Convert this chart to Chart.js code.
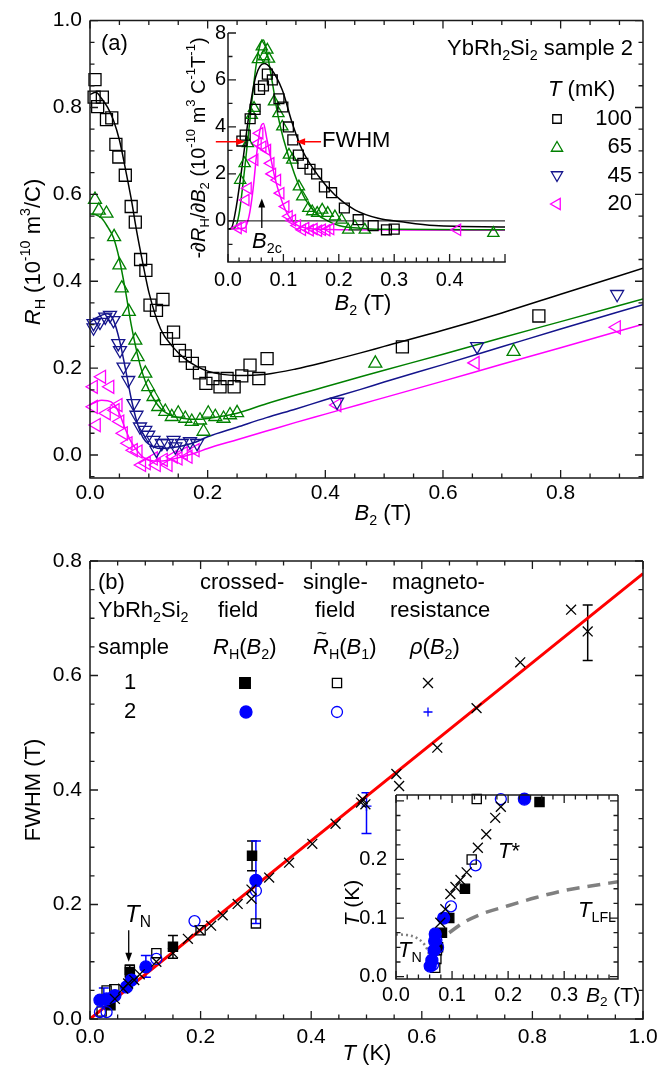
<!DOCTYPE html>
<html>
<head>
<meta charset="utf-8">
<title>YbRh2Si2 Hall crossover</title>
<script src="https://cdn.jsdelivr.net/npm/chart.js@4.4.1/dist/chart.umd.min.js"></script>
<style>
  html, body { margin: 0; padding: 0; background: #fff; }
  #page { position: relative; width: 668px; height: 1069px; overflow: hidden; }
  canvas { position: absolute; }
</style>
</head>
<body>
<div id="page">
  <canvas id="mainA"></canvas>
  <canvas id="insetA"></canvas>
  <canvas id="mainB"></canvas>
  <canvas id="insetB"></canvas>
</div>
<script>
"use strict";

const FONT = '"Liberation Sans", Arial, Helvetica, sans-serif';
const GREEN = "#008000";
const NAVY = "#14148c";
const MAGENTA = "#ff00ff";
const BLUE = "#0000ff";
const RED = "#ff0000";
const GRAY = "#808080";

// ---- (a) main: R_H (1e-10 m^3/C) vs B2 (T) ----
const A_B_100 = [0.0085, 0.007, 0.013, 0.021, 0.028, 0.037, 0.044, 0.049, 0.06, 0.07, 0.077, 0.086, 0.095, 0.102, 0.113, 0.124, 0.13, 0.142, 0.152, 0.162, 0.174, 0.186, 0.197, 0.209, 0.221, 0.233, 0.245, 0.258, 0.272, 0.287, 0.301, 0.531, 0.763];
const A_R_100 = [0.864, 0.824, 0.802, 0.824, 0.772, 0.776, 0.715, 0.686, 0.644, 0.572, 0.536, 0.45, 0.425, 0.345, 0.333, 0.358, 0.268, 0.283, 0.241, 0.228, 0.211, 0.189, 0.165, 0.176, 0.157, 0.176, 0.157, 0.182, 0.207, 0.176, 0.222, 0.249, 0.32];
const A_B_65 = [0.0085, 0.015, 0.028, 0.041, 0.05, 0.054, 0.066, 0.077, 0.081, 0.094, 0.099, 0.108, 0.116, 0.128, 0.139, 0.15, 0.162, 0.173, 0.187, 0.193, 0.201, 0.213, 0.227, 0.238, 0.25, 0.485, 0.72];
const A_R_65 = [0.588, 0.563, 0.556, 0.502, 0.437, 0.384, 0.33, 0.264, 0.226, 0.188, 0.157, 0.134, 0.111, 0.1, 0.088, 0.096, 0.084, 0.077, 0.08, 0.054, 0.096, 0.088, 0.084, 0.092, 0.097, 0.211, 0.238];
const A_B_45 = [0.006, 0.006, 0.017, 0.026, 0.034, 0.04, 0.048, 0.051, 0.057, 0.065, 0.074, 0.079, 0.085, 0.094, 0.099, 0.108, 0.113, 0.122, 0.131, 0.142, 0.145, 0.156, 0.17, 0.182, 0.42, 0.658, 0.896];
const A_R_45 = [0.303, 0.293, 0.306, 0.318, 0.322, 0.31, 0.257, 0.241, 0.203, 0.172, 0.119, 0.092, 0.065, 0.057, 0.046, 0.034, 0.011, 0.027, 0.027, 0.034, 0.019, 0.027, 0.031, 0.027, 0.122, 0.25, 0.37];
const A_B_20 = [0.006, 0.006, 0.011, 0.02, 0.028, 0.034, 0.043, 0.048, 0.051, 0.057, 0.065, 0.074, 0.082, 0.088, 0.096, 0.108, 0.113, 0.125, 0.133, 0.142, 0.15, 0.159, 0.167, 0.179, 0.42, 0.655, 0.895];
const A_R_20 = [0.157, 0.111, 0.069, 0.18, 0.096, 0.157, 0.103, 0.115, 0.077, 0.05, 0.027, 0.011, 0.008, -0.023, -0.019, -0.008, -0.023, -0.011, -0.023, -0.004, -0.008, 0.004, -0.004, 0.011, 0.115, 0.212, 0.294];
// fitted curves
const A_FIT_B = [0, 0.01, 0.02, 0.03, 0.04, 0.05, 0.06, 0.07, 0.08, 0.09, 0.1, 0.12, 0.14, 0.16, 0.18, 0.2, 0.25, 0.3, 0.35, 0.4, 0.46, 0.5, 0.6, 0.7, 0.8, 0.94];
const A_FIT_100 = [0.83, 0.835, 0.82, 0.8, 0.77, 0.725, 0.66, 0.59, 0.51, 0.44, 0.375, 0.29, 0.25, 0.223, 0.205, 0.193, 0.183, 0.186, 0.198, 0.214, 0.235, 0.25, 0.287, 0.327, 0.37, 0.43];
const A_FIT_65 = [0.555, 0.553, 0.545, 0.525, 0.5, 0.45, 0.38, 0.3, 0.235, 0.185, 0.15, 0.107, 0.09, 0.084, 0.082, 0.084, 0.096, 0.118, 0.138, 0.157, 0.18, 0.195, 0.232, 0.27, 0.307, 0.359];
const A_FIT_45 = [0.305, 0.315, 0.322, 0.325, 0.31, 0.265, 0.2, 0.13, 0.075, 0.04, 0.025, 0.015, 0.017, 0.022, 0.03, 0.042, 0.064, 0.086, 0.106, 0.127, 0.151, 0.168, 0.208, 0.249, 0.29, 0.346];
const A_FIT_20 = [0.115, 0.122, 0.126, 0.125, 0.118, 0.095, 0.06, 0.03, 0.01, -0.005, -0.012, -0.014, -0.01, -0.003, 0.005, 0.015, 0.035, 0.055, 0.075, 0.094, 0.117, 0.132, 0.17, 0.209, 0.247, 0.301];

// ---- (a) inset: -dR_H/dB2 vs B2 ----
const I_B_100 = [0.025, 0.031, 0.04, 0.049, 0.057, 0.064, 0.071, 0.08, 0.092, 0.099, 0.109, 0.117, 0.127, 0.135, 0.148, 0.16, 0.174, 0.187, 0.21, 0.235, 0.262, 0.286, 0.3];
const I_V_100 = [3.4, 3.65, 4.35, 4.75, 5.6, 5.75, 6.25, 6.0, 5.2, 4.85, 4.0, 3.45, 2.8, 2.45, 2.2, 2.0, 1.45, 1.2, 0.55, 0.05, -0.2, -0.38, -0.35];
const I_B_65 = [0.022, 0.03, 0.036, 0.043, 0.047, 0.054, 0.061, 0.065, 0.071, 0.074, 0.083, 0.091, 0.098, 0.11, 0.116, 0.128, 0.134, 0.145, 0.152, 0.161, 0.17, 0.18, 0.193, 0.205, 0.217, 0.229, 0.247, 0.479];
const I_V_65 = [1.74, 2.45, 3.3, 4.5, 4.8, 6.88, 7.42, 7.0, 7.28, 6.9, 5.08, 4.58, 4.01, 2.81, 2.6, 1.46, 1.03, 0.54, 0.4, 0.33, 0.47, 0.33, 0.18, 0.04, -0.38, -0.24, -0.38, -0.52];
const I_B_20 = [0.018, 0.027, 0.032, 0.036, 0.048, 0.054, 0.057, 0.0625, 0.071, 0.077, 0.08, 0.089, 0.095, 0.104, 0.11, 0.116, 0.125, 0.134, 0.14, 0.148, 0.155, 0.163, 0.17, 0.178, 0.185, 0.414];
const I_V_20 = [-0.3, -0.24, 0.89, 1.39, 2.6, 3.3, 3.73, 3.16, 3.02, 2.45, 2.0, 1.74, 1.18, 0.61, 0.2, 0.03, -0.2, -0.38, -0.3, -0.4, -0.35, -0.42, -0.38, -0.4, -0.35, -0.38];
const I_FIT_B100 = [0, 0.006, 0.015, 0.027, 0.039, 0.05, 0.065, 0.077, 0.098, 0.116, 0.134, 0.164, 0.193, 0.229, 0.271, 0.313, 0.373, 0.5];
const I_FIT_100 = [-0.35, -0.31, 0.61, 2.6, 4.72, 6.14, 6.7, 6.5, 5.57, 4.16, 3.02, 1.89, 1.1, 0.47, 0.11, -0.04, -0.2, -0.26];
const I_FIT_B65 = [0, 0.012, 0.02, 0.03, 0.04, 0.05, 0.058, 0.064, 0.07, 0.08, 0.09, 0.1, 0.12, 0.14, 0.16, 0.18, 0.2, 0.25, 0.3, 0.5];
const I_FIT_65 = [-0.35, -0.3, 0.3, 2.2, 4.4, 6.5, 7.5, 7.7, 7.2, 5.9, 4.5, 3.5, 2.0, 0.9, 0.3, 0.0, -0.2, -0.33, -0.36, -0.38];
const I_FIT_B20 = [0, 0.03, 0.038, 0.045, 0.052, 0.058, 0.064, 0.07, 0.077, 0.085, 0.095, 0.105, 0.12, 0.14, 0.17, 0.2, 0.5];
const I_FIT_20 = [-0.35, -0.3, 0.2, 1.3, 2.9, 3.9, 4.15, 3.5, 2.7, 1.8, 1.0, 0.4, -0.1, -0.3, -0.36, -0.38, -0.4];
const I_ZERO_B = [0, 0.5];
const I_ZERO_V = [0, 0];

// ---- (b) main: FWHM (T) vs T (K) ----
const B_T_S1X = [0.037, 0.072, 0.15, 0.293];
const B_W_S1X = [0.024, 0.082, 0.126, 0.285];
const B_T_S1S = [0.021, 0.03, 0.044, 0.072, 0.12, 0.2, 0.3];
const B_W_S1S = [0.013, 0.05, 0.052, 0.086, 0.115, 0.155, 0.167];
const B_T_S2X = [0.018, 0.03, 0.045, 0.066, 0.075, 0.101, 0.3];
const B_W_S2X = [0.033, 0.035, 0.041, 0.056, 0.068, 0.091, 0.242];
const B_T_S2S = [0.018, 0.024, 0.03, 0.04, 0.12, 0.189, 0.3];
const B_W_S2S = [0.012, 0.032, 0.012, 0.038, 0.105, 0.171, 0.224];
const B_T_MR1 = [0.045, 0.06, 0.069, 0.08, 0.09, 0.12, 0.15, 0.177, 0.198, 0.219, 0.24, 0.267, 0.292, 0.292, 0.324, 0.36, 0.402, 0.444, 0.49, 0.493, 0.498, 0.554, 0.559, 0.628, 0.699, 0.778, 0.87, 0.9];
const B_W_MR1 = [0.035, 0.053, 0.062, 0.068, 0.078, 0.1, 0.115, 0.14, 0.155, 0.163, 0.181, 0.201, 0.21, 0.226, 0.247, 0.273, 0.306, 0.341, 0.378, 0.384, 0.375, 0.428, 0.407, 0.474, 0.543, 0.623, 0.715, 0.677];
const B_T_MR2 = [0.5];
const B_W_MR2 = [0.372];
const B_LINE_T = [0, 1];
const B_LINE_W = [0, 0.778];
const B_ERR_T_BLACK = [0.072, 0.15, 0.293, 0.9];
const B_ERR_LO_BLACK = [0.072, 0.106, 0.259, 0.626];
const B_ERR_HI_BLACK = [0.094, 0.146, 0.311, 0.723];
const B_ERR_T_BLUE = [0.025, 0.101, 0.3, 0.5];
const B_ERR_LO_BLUE = [0.029, 0.073, 0.167, 0.324];
const B_ERR_HI_BLUE = [0.054, 0.111, 0.311, 0.395];

// ---- (b) inset: T (K) vs B2 (T) ----
const P_B_S1X = [0.256, 0.123, 0.095, 0.082, 0.075];
const P_T_S1X = [0.298, 0.15, 0.1, 0.075, 0.05];
const P_B_S1S = [0.144, 0.135, 0.073, 0.072, 0.07];
const P_T_S1S = [0.303, 0.2, 0.045, 0.03, 0.015];
const P_B_S2X = [0.229, 0.085, 0.07, 0.069, 0.068, 0.064, 0.061];
const P_T_S2X = [0.303, 0.1, 0.073, 0.061, 0.045, 0.028, 0.018];
const P_B_S2S = [0.187, 0.142, 0.098, 0.075, 0.072, 0.066];
const P_T_S2S = [0.303, 0.19, 0.12, 0.05, 0.062, 0.02];
const P_B_MR1 = [0.187, 0.177, 0.161, 0.146, 0.126, 0.115, 0.106, 0.097, 0.088, 0.079];
const P_T_MR1 = [0.29, 0.271, 0.243, 0.22, 0.178, 0.165, 0.153, 0.141, 0.115, 0.092];
const P_LFL_B = [0.095, 0.12, 0.15, 0.2, 0.25, 0.3, 0.35, 0.396];
const P_LFL_T = [0.075, 0.092, 0.106, 0.121, 0.135, 0.147, 0.155, 0.162];
const P_TN_B = [0, 0.02, 0.035, 0.048, 0.056, 0.061];
const P_TN_T = [0.072, 0.071, 0.067, 0.058, 0.046, 0.032];

function zip(xs, ys) {
  return xs.map((x, i) => ({x: x, y: ys[i]}));
}

function pointSet(xs, ys, style, color, r, filled, rot) {
  return {
    data: zip(xs, ys),
    showLine: false,
    clip: false,
    pointStyle: style,
    pointRadius: r,
    pointRotation: rot || 0,
    pointBorderColor: color,
    pointBorderWidth: 1.3,
    pointBackgroundColor: filled ? color : "rgba(0,0,0,0)"
  };
}

function lineSet(xs, ys, color, width, dash) {
  return {
    data: zip(xs, ys),
    showLine: true,
    pointRadius: 0,
    order: 5,
    borderColor: color,
    borderWidth: width,
    borderDash: dash || [],
    cubicInterpolationMode: "monotone",
    fill: false
  };
}

function axis(min, max, step, size, pad, label) {
  return {
    type: "linear",
    min: min,
    max: max,
    grid: {display: false, drawTicks: false},
    border: {display: false},
    ticks: {
      stepSize: step, includeBounds: false, autoSkip: false, maxRotation: 0,
      padding: pad, color: "#000", font: {family: FONT, size: size},
      callback: label
    }
  };
}

const one = (v) => v.toFixed(1);

// rich text: parts are [text, flags]; i italic, b subscript, p superscript, w tilde
function rich(ctx, parts, x, y, size, align, rot) {
  ctx.save();
  ctx.translate(x, y);
  if (rot) {
    ctx.rotate(rot);
  }
  const segs = parts.map((p) => {
    const f = p[1] || "";
    const small = f.includes("b") || f.includes("p");
    const s = small ? size * 0.65 : size;
    const font = (f.includes("i") ? "italic " : "") + s + "px " + FONT;
    ctx.font = font;
    const dy = f.includes("b") ? size * 0.3 : (f.includes("p") ? -size * 0.36 : 0);
    return {t: p[0], font: font, w: ctx.measureText(p[0]).width, dy: dy, tilde: f.includes("w")};
  });
  const total = segs.reduce((s, g) => s + g.w, 0);
  let cx = align === "center" ? -total / 2 : (align === "right" ? -total : 0);
  ctx.textBaseline = "middle";
  ctx.textAlign = "left";
  ctx.fillStyle = "#000";
  for (const g of segs) {
    ctx.font = g.font;
    ctx.fillText(g.t, cx, g.dy);
    if (g.tilde) {
      ctx.font = (size * 0.8) + "px " + FONT;
      ctx.textAlign = "center";
      ctx.fillText("~", cx + g.w / 2 + 1, -size * 0.62);
      ctx.textAlign = "left";
    }
    cx += g.w;
  }
  ctx.restore();
}

function mark(ctx, style, x, y, r, color, filled, rot) {
  ctx.save();
  ctx.translate(x, y);
  if (rot) {
    ctx.rotate(rot * Math.PI / 180);
  }
  ctx.strokeStyle = color;
  ctx.fillStyle = color;
  ctx.lineWidth = 1.3;
  ctx.beginPath();
  const s = r * Math.SQRT1_2;
  if (style === "rect") {
    ctx.rect(-s, -s, 2 * s, 2 * s);
  } else if (style === "circle") {
    ctx.arc(0, 0, r, 0, 2 * Math.PI);
  } else if (style === "triangle") {
    ctx.moveTo(0, -r);
    ctx.lineTo(r * 0.866, r * 0.5);
    ctx.lineTo(-r * 0.866, r * 0.5);
    ctx.closePath();
  } else if (style === "crossRot") {
    ctx.moveTo(-s, -s); ctx.lineTo(s, s);
    ctx.moveTo(s, -s); ctx.lineTo(-s, s);
  } else if (style === "cross") {
    ctx.moveTo(-r, 0); ctx.lineTo(r, 0);
    ctx.moveTo(0, -r); ctx.lineTo(0, r);
  }
  if (filled) {
    ctx.fill();
  }
  ctx.stroke();
  ctx.restore();
}

function arrow(ctx, x1, y1, x2, y2, color, width, head) {
  const ang = Math.atan2(y2 - y1, x2 - x1);
  ctx.save();
  ctx.strokeStyle = color;
  ctx.fillStyle = color;
  ctx.lineWidth = width;
  ctx.beginPath();
  ctx.moveTo(x1, y1);
  ctx.lineTo(x2 - Math.cos(ang) * head * 0.8, y2 - Math.sin(ang) * head * 0.8);
  ctx.stroke();
  ctx.beginPath();
  ctx.moveTo(x2, y2);
  ctx.lineTo(x2 - head * Math.cos(ang) + head * 0.38 * Math.sin(ang), y2 - head * Math.sin(ang) - head * 0.38 * Math.cos(ang));
  ctx.lineTo(x2 - head * Math.cos(ang) - head * 0.38 * Math.sin(ang), y2 - head * Math.sin(ang) + head * 0.38 * Math.cos(ang));
  ctx.closePath();
  ctx.fill();
  ctx.restore();
}

function drawTicks(ctx, scale, a, major, minor, horiz, sides) {
  const n0 = Math.ceil(scale.min / minor - 1e-6);
  const n1 = Math.floor(scale.max / minor + 1e-6);
  for (let k = n0; k <= n1; k++) {
    const v = k * minor;
    const isMajor = Math.abs(v / major - Math.round(v / major)) < 1e-6;
    const len = isMajor ? 8 : 4.5;
    const p = scale.getPixelForValue(v);
    if (horiz) {
      if (sides.includes("b")) { ctx.moveTo(p, a.bottom); ctx.lineTo(p, a.bottom - len); }
      if (sides.includes("t")) { ctx.moveTo(p, a.top); ctx.lineTo(p, a.top + len); }
    } else {
      if (sides.includes("l")) { ctx.moveTo(a.left, p); ctx.lineTo(a.left + len, p); }
      if (sides.includes("r")) { ctx.moveTo(a.right, p); ctx.lineTo(a.right - len, p); }
    }
  }
}

function framePlugin(box, spec) {
  function pageFns(chart) {
    return {
      X: (v) => chart.scales.x.getPixelForValue(v) + box[0],
      Y: (v) => chart.scales.y.getPixelForValue(v) + box[1]
    };
  }
  return {
    id: "frame",
    beforeDraw(chart) {
      if (spec.white) {
        const a = chart.chartArea;
        chart.ctx.save();
        chart.ctx.fillStyle = "#fff";
        chart.ctx.fillRect(a.left, a.top, a.right - a.left, a.bottom - a.top);
        chart.ctx.restore();
      }
    },
    beforeDatasetsDraw(chart) {
      if (spec.under) {
        const ctx = chart.ctx;
        ctx.save();
        ctx.translate(-box[0], -box[1]);
        spec.under(ctx, pageFns(chart));
        ctx.restore();
      }
    },
    afterDraw(chart) {
      const ctx = chart.ctx;
      const a = chart.chartArea;
      const sides = spec.sides;
      ctx.save();
      ctx.strokeStyle = "#1a1a1a";
      ctx.lineWidth = 1.5;
      ctx.beginPath();
      if (sides.includes("l")) { ctx.moveTo(a.left, a.top); ctx.lineTo(a.left, a.bottom); }
      if (sides.includes("r")) { ctx.moveTo(a.right, a.top); ctx.lineTo(a.right, a.bottom); }
      if (sides.includes("t")) { ctx.moveTo(a.left, a.top); ctx.lineTo(a.right, a.top); }
      if (sides.includes("b")) { ctx.moveTo(a.left - 0.75, a.bottom); ctx.lineTo(a.right + 0.75, a.bottom); }
      ctx.stroke();
      ctx.lineWidth = 1.3;
      ctx.beginPath();
      drawTicks(ctx, chart.scales.x, a, spec.xt[0], spec.xt[1], true, sides);
      drawTicks(ctx, chart.scales.y, a, spec.yt[0], spec.yt[1], false, sides);
      ctx.stroke();
      ctx.translate(-box[0], -box[1]);
      if (spec.over) {
        spec.over(ctx, pageFns(chart));
      }
      ctx.restore();
    }
  };
}

function build(id, box, area, yW, xH, datasets, xAx, yAx, spec) {
  const cv = document.getElementById(id);
  cv.width = box[2];
  cv.height = box[3];
  cv.style.left = box[0] + "px";
  cv.style.top = box[1] + "px";
  cv.style.width = box[2] + "px";
  cv.style.height = box[3] + "px";
  xAx.afterFit = (s) => { s.height = xH; };
  yAx.afterFit = (s) => { s.width = yW; };
  return new Chart(cv.getContext("2d"), {
    type: "scatter",
    data: {datasets: datasets},
    options: {
      responsive: false,
      animation: false,
      events: [],
      layout: {padding: {
        left: area[0] - box[0] - yW,
        top: area[1] - box[1],
        right: box[0] + box[2] - area[2],
        bottom: box[1] + box[3] - area[3] - xH
      }},
      plugins: {legend: {display: false}, tooltip: {enabled: false}},
      scales: {x: xAx, y: yAx}
    },
    plugins: [framePlugin(box, spec)]
  });
}

function errorBars(ctx, fn, ts, lo, hi, color) {
  ctx.save();
  ctx.strokeStyle = color;
  ctx.lineWidth = 1.5;
  ctx.beginPath();
  ts.forEach((t, i) => {
    const x = fn.X(t);
    const y1 = fn.Y(lo[i]);
    const y2 = fn.Y(hi[i]);
    ctx.moveTo(x, y1); ctx.lineTo(x, y2);
    ctx.moveTo(x - 5, y1); ctx.lineTo(x + 5, y1);
    ctx.moveTo(x - 5, y2); ctx.lineTo(x + 5, y2);
  });
  ctx.stroke();
  ctx.restore();
}

window.addEventListener("load", function() {
  // ---------- panel (a) ----------
  build("mainA", [0, 0, 668, 530], [90, 17, 643, 478], 60, 40, [
    pointSet(A_B_100, A_R_100, "rect", "#000", 8.5, false),
    pointSet(A_B_65, A_R_65, "triangle", GREEN, 7.5, false),
    pointSet(A_B_45, A_R_45, "triangle", NAVY, 7.5, false, 180),
    pointSet(A_B_20, A_R_20, "triangle", MAGENTA, 7.5, false, 270),
    lineSet(A_FIT_B, A_FIT_100, "#000", 1.5),
    lineSet(A_FIT_B, A_FIT_65, GREEN, 1.5),
    lineSet(A_FIT_B, A_FIT_45, NAVY, 1.5),
    lineSet(A_FIT_B, A_FIT_20, MAGENTA, 1.5)
  ], axis(0, 0.94, 0.2, 21, 3, one), axis(-0.053, 1.0, 0.2, 21, 8, one), {
    sides: "lrtb", xt: [0.2, 0.05], yt: [0.2, 0.05],
    over(ctx) {
      rich(ctx, [["(a)"]], 101, 44, 22, "left");
      rich(ctx, [["YbRh"], ["2", "b"], ["Si"], ["2", "b"], [" sample 2"]], 633, 49, 22, "right");
      rich(ctx, [["T", "i"], [" (mK)"]], 548, 90, 22, "left");
      const rowsY = [119, 147, 176, 204];
      const names = ["100", "65", "45", "20"];
      mark(ctx, "rect", 557, rowsY[0], 6, "#000", false);
      mark(ctx, "triangle", 557, rowsY[1] + 1, 6.5, GREEN, false);
      mark(ctx, "triangle", 557, rowsY[2] - 1, 6.5, NAVY, false, 180);
      mark(ctx, "triangle", 557, rowsY[3], 6.5, MAGENTA, false, 270);
      names.forEach((n, i) => rich(ctx, [[n]], 632, rowsY[i], 22, "right"));
      rich(ctx, [["R", "i"], ["H", "b"], [" (10"], ["-10", "p"], [" m"], ["3", "p"], ["/C)"]], 34, 252, 22, "center", -Math.PI / 2);
      rich(ctx, [["B", "i"], ["2", "b"], [" (T)"]], 383, 514, 22, "center");
    }
  });

  build("insetA", [150, 0, 370, 330], [228, 33, 505, 262], 40, 34, [
    pointSet(I_B_100, I_V_100, "rect", "#000", 7, false),
    pointSet(I_B_65, I_V_65, "triangle", GREEN, 6.5, false),
    pointSet(I_B_20, I_V_20, "triangle", MAGENTA, 6.5, false, 270),
    lineSet(I_ZERO_B, I_ZERO_V, "#000", 1),
    lineSet(I_FIT_B100, I_FIT_100, "#000", 1.5),
    lineSet(I_FIT_B65, I_FIT_65, GREEN, 1.5),
    lineSet(I_FIT_B20, I_FIT_20, MAGENTA, 1.5)
  ], axis(0, 0.5, 0.1, 20, 6, (v) => v > 0.45 ? "" : v.toFixed(1)),
     axis(-1.75, 8, 2, 20, 2, (v) => String(v)), {
    sides: "lb", xt: [0.1, 0.02], yt: [2, 1],
    over(ctx, fn) {
      const yh = fn.Y(3.37);
      arrow(ctx, fn.X(-0.022), yh, fn.X(0.031), yh, RED, 1.5, 9);
      arrow(ctx, fn.X(0.168), yh, fn.X(0.123), yh, RED, 1.5, 9);
      rich(ctx, [["FWHM"]], 322, 141, 22, "left");
      arrow(ctx, fn.X(0.061), fn.Y(-0.3), fn.X(0.061), fn.Y(0.95), "#000", 1.3, 9);
      rich(ctx, [["B", "i"], ["2c", "b"]], 252, 242, 22, "left");
      rich(ctx, [["-\u2202"], ["R", "i"], ["H", "b"], ["/\u2202"], ["B", "i"], ["2", "b"], [" (10"], ["-10", "p"],
        [" m"], ["3", "p"], [" C"], ["-1", "p"], ["T"], ["-1", "p"], [")"]], 199, 148, 20, "center", -Math.PI / 2);
      rich(ctx, [["B", "i"], ["2", "b"], [" (T)"]], 363, 304, 22, "center");
    }
  });

  // ---------- panel (b) ----------
  build("mainB", [0, 530, 668, 539], [90, 561, 643, 1019], 60, 40, [
    pointSet(B_T_MR1, B_W_MR1, "crossRot", "#000", 7, false),
    pointSet(B_T_MR2, B_W_MR2, "cross", BLUE, 5, false),
    pointSet(B_T_S2X, B_W_S2X, "circle", BLUE, 6, true),
    pointSet(B_T_S2S, B_W_S2S, "circle", BLUE, 5.5, false),
    pointSet(B_T_S1X, B_W_S1X, "rect", "#000", 6.5, true),
    pointSet(B_T_S1S, B_W_S1S, "rect", "#000", 6.5, false),
    Object.assign(lineSet(B_LINE_T, B_LINE_W, RED, 3), {order: 10})
  ], axis(0, 1, 0.2, 21, 6, one), axis(0, 0.8, 0.2, 21, 8, one), {
    sides: "lrtb", xt: [0.2, 0.05], yt: [0.2, 0.05],
    under(ctx, fn) {
      errorBars(ctx, fn, B_ERR_T_BLACK, B_ERR_LO_BLACK, B_ERR_HI_BLACK, "#000");
      errorBars(ctx, fn, B_ERR_T_BLUE, B_ERR_LO_BLUE, B_ERR_HI_BLUE, BLUE);
    },
    over(ctx, fn) {
      rich(ctx, [["(b)"]], 98, 583, 22, "left");
      rich(ctx, [["crossed-"]], 200, 583, 22, "left");
      rich(ctx, [["single-"]], 303, 583, 22, "left");
      rich(ctx, [["magneto-"]], 392, 583, 22, "left");
      rich(ctx, [["YbRh"], ["2", "b"], ["Si"], ["2", "b"]], 98, 611, 22, "left");
      rich(ctx, [["field"]], 218, 611, 22, "left");
      rich(ctx, [["field"]], 315, 611, 22, "left");
      rich(ctx, [["resistance"]], 390, 611, 22, "left");
      rich(ctx, [["sample"]], 98, 648, 22, "left");
      rich(ctx, [["R", "i"], ["H", "b"], ["("], ["B", "i"], ["2", "b"], [")"]], 213, 648, 22, "left");
      rich(ctx, [["R", "iw"], ["H", "b"], ["("], ["B", "i"], ["1", "b"], [")"]], 313, 648, 22, "left");
      rich(ctx, [["\u03c1", "i"], ["("], ["B", "i"], ["2", "b"], [")"]], 410, 648, 22, "left");
      rich(ctx, [["1"]], 130, 683, 22, "center");
      rich(ctx, [["2"]], 130, 712, 22, "center");
      mark(ctx, "rect", 245, 683, 7.5, "#000", true);
      mark(ctx, "rect", 337, 683, 6.5, "#000", false);
      mark(ctx, "crossRot", 428, 683, 7, "#000", false);
      mark(ctx, "circle", 246, 712, 6, BLUE, true);
      mark(ctx, "circle", 337, 712, 5.5, BLUE, false);
      mark(ctx, "cross", 428, 712, 4.5, BLUE, false);
      arrow(ctx, fn.X(0.07), fn.Y(0.155), fn.X(0.07), fn.Y(0.1), "#000", 1.3, 9);
      rich(ctx, [["T", "i"], ["N", "b"]], 125, 915, 24, "left");
      rich(ctx, [["FWHM (T)"]], 34, 790, 22, "center", -Math.PI / 2);
      rich(ctx, [["T", "i"], [" (K)"]], 367, 1054, 22, "center");
    }
  });

  build("insetB", [330, 770, 320, 250], [396, 795, 618, 979], 50, 34, [
    pointSet(P_B_MR1, P_T_MR1, "crossRot", "#000", 7, false),
    pointSet(P_B_S2X, P_T_S2X, "circle", BLUE, 6, true),
    pointSet(P_B_S2S, P_T_S2S, "circle", BLUE, 5.5, false),
    pointSet(P_B_S1X, P_T_S1X, "rect", "#000", 6.5, true),
    pointSet(P_B_S1S, P_T_S1S, "rect", "#000", 6.5, false),
    lineSet(P_LFL_B, P_LFL_T, GRAY, 3.5, [13, 8]),
    lineSet(P_TN_B, P_TN_T, GRAY, 2.5, [2, 3])
  ], axis(0, 0.396, 0.1, 20, 4, (v) => v > 0.35 ? "" : v.toFixed(1)),
     axis(-0.004, 0.31, 0.1, 20, 9, (v) => v > 0.25 ? "" : v.toFixed(1)), {
    sides: "lrtb", xt: [0.1, 0.02], yt: [0.1, 0.025], white: true,
    over(ctx) {
      rich(ctx, [["T", "i"], ["*"]], 498, 852, 22, "left");
      rich(ctx, [["T", "i"], ["LFL", "b"]], 578, 911, 22, "left");
      rich(ctx, [["T", "i"], ["N", "b"]], 398, 951, 22, "left");
      rich(ctx, [["B", "i"], ["2", "b"], [" (T)"]], 613, 996, 21, "center");
      rich(ctx, [["T", "i"], [" (K)"]], 353, 903, 21, "center", -Math.PI / 2);
    }
  });
});
</script>
</body>
</html>
